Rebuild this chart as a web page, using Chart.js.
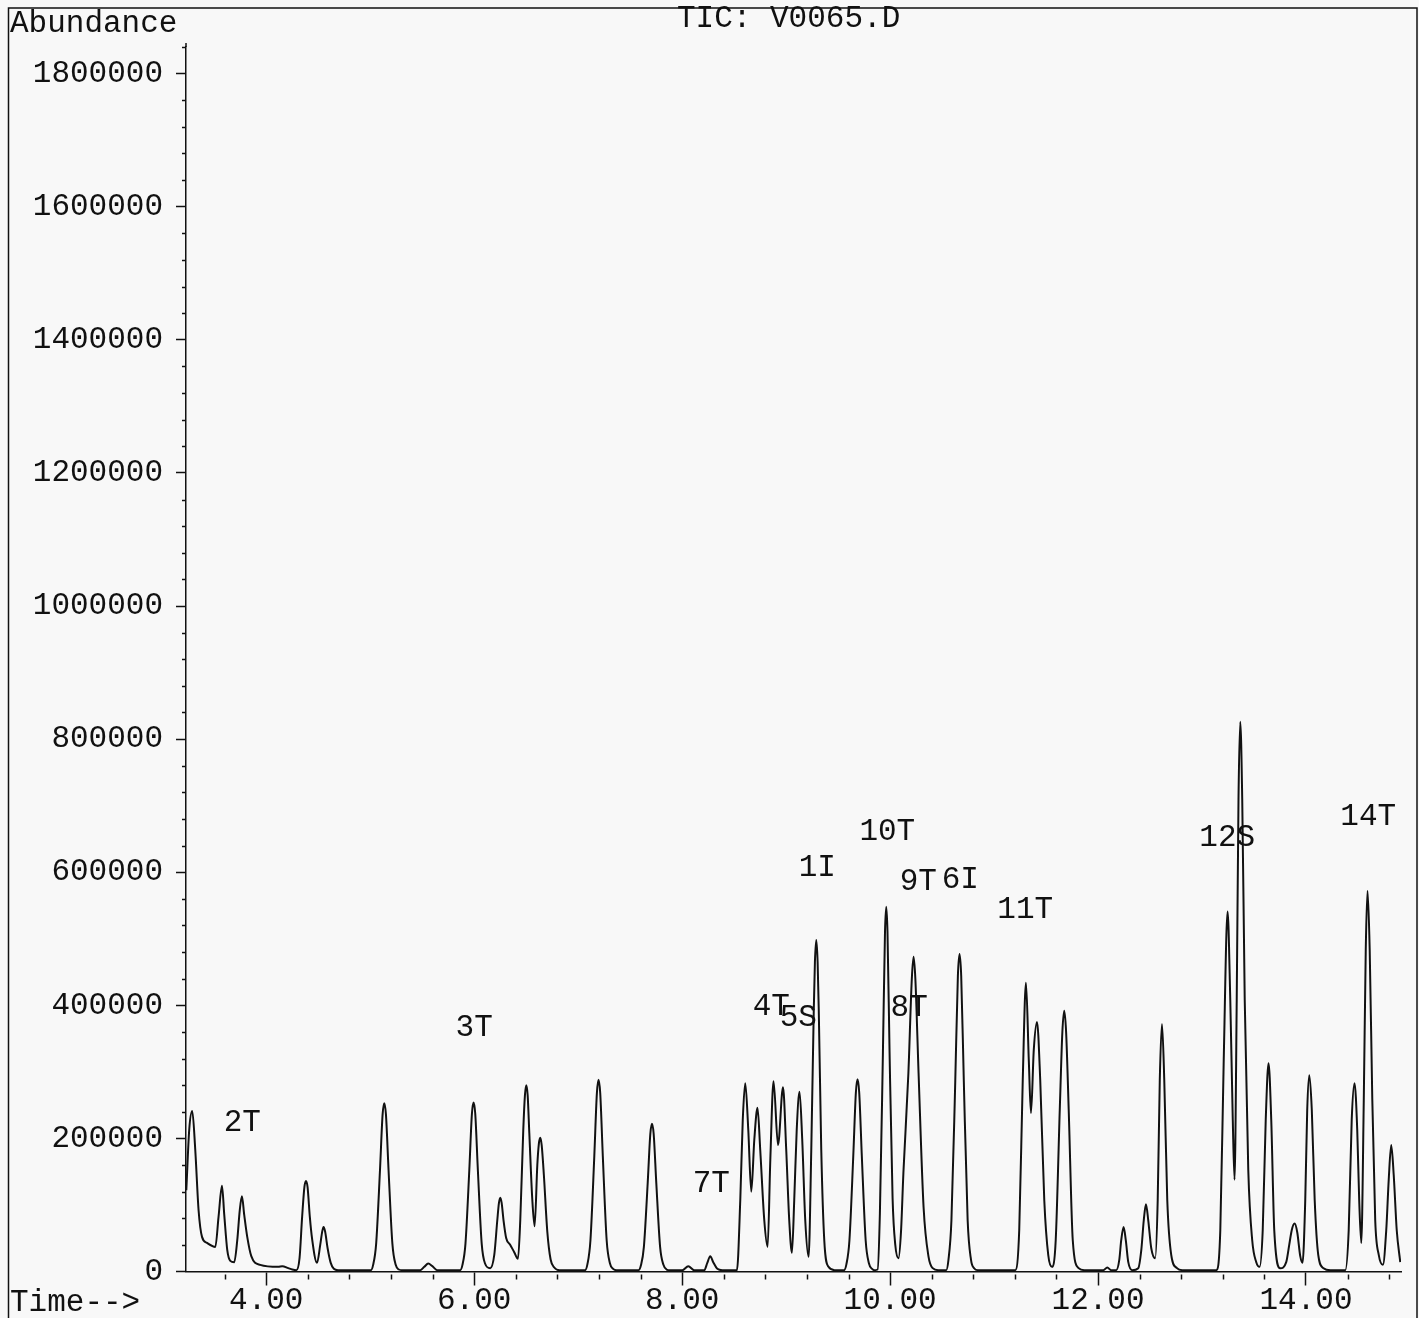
<!DOCTYPE html>
<html>
<head>
<meta charset="utf-8">
<title>TIC: V0065.D</title>
<script src="https://cdn.jsdelivr.net/npm/chart.js@4.4.1/dist/chart.umd.min.js"></script>
<style>
    html, body { margin: 0; padding: 0; background: #f8f8f8; }
    #wrap { position: relative; width: 1419px; height: 1318px; }
</style>
</head>
<body>
<div id="wrap"><canvas id="tic"></canvas></div>
<script>
// Total ion chromatogram, retention time (min) vs abundance
const retentionTimes = [
    3.231, 3.259, 3.288, 3.317, 3.349, 3.382, 3.430, 3.510, 3.541, 3.574, 3.596, 3.625, 3.654, 3.692,
    3.721, 3.745, 3.766, 3.788, 3.817, 3.856, 3.942, 4.115, 4.154, 4.212, 4.250,
    4.290, 4.320, 4.345, 4.367, 4.382, 4.397, 4.419, 4.440, 4.488, 4.519, 4.538, 4.551, 4.566, 4.590,
    4.620, 4.650, 4.690,
    5.005, 5.028, 5.057, 5.094, 5.119, 5.135, 5.151, 5.176, 5.213, 5.245, 5.275, 5.308,
    5.481, 5.520, 5.558, 5.597, 5.645,
    5.864, 5.887, 5.916, 5.953, 5.978, 5.994, 6.010, 6.035, 6.072, 6.104, 6.154,
    6.193, 6.222, 6.238, 6.251, 6.264, 6.282, 6.308, 6.347, 6.385, 6.421,
    6.443, 6.472, 6.488, 6.501, 6.514, 6.530, 6.558, 6.581, 6.607, 6.622, 6.635, 6.649, 6.670, 6.703,
    6.735, 6.770, 6.820,
    7.066, 7.089, 7.118, 7.155, 7.180, 7.196, 7.212, 7.237, 7.274, 7.306, 7.336, 7.370,
    7.580, 7.603, 7.632, 7.669, 7.694, 7.710, 7.726, 7.751, 7.788, 7.820, 7.850, 7.885,
    8.001, 8.059, 8.117, 8.213, 8.242, 8.270, 8.299, 8.338, 8.386,
    8.527, 8.559, 8.583, 8.607, 8.636, 8.665, 8.694, 8.725, 8.751, 8.790, 8.822, 8.848, 8.879, 8.922,
    8.970, 9.001, 9.030, 9.056, 9.078, 9.102, 9.129, 9.155, 9.184, 9.216, 9.242, 9.266, 9.277, 9.290,
    9.303, 9.314, 9.338, 9.367, 9.408, 9.466,
    9.557, 9.580, 9.609, 9.646, 9.671, 9.687, 9.703, 9.728, 9.765, 9.797, 9.827, 9.850,
    9.880, 9.902, 9.931, 9.951, 9.963, 9.975, 9.995, 10.024, 10.050, 10.081,
    10.105, 10.128, 10.176, 10.209, 10.226, 10.243, 10.274, 10.322, 10.370, 10.410, 10.463,
    10.540, 10.561, 10.590, 10.627, 10.652, 10.668, 10.684, 10.709, 10.746, 10.778, 10.808, 10.845,
    11.204, 11.242, 11.276, 11.307, 11.334, 11.355, 11.382, 11.413, 11.444, 11.483, 11.521, 11.557,
    11.593, 11.632, 11.657, 11.675, 11.693, 11.718, 11.757, 11.813, 11.868,
    12.050, 12.089, 12.127, 12.175, 12.204, 12.223, 12.246, 12.267, 12.291, 12.329,
    12.387, 12.416, 12.440, 12.461, 12.483, 12.512, 12.550, 12.574, 12.594, 12.615, 12.637, 12.666,
    12.704, 12.759, 12.810,
    13.137, 13.176, 13.209, 13.246, 13.272, 13.296, 13.313, 13.334, 13.351, 13.368, 13.387, 13.411,
    13.445, 13.483, 13.522, 13.554, 13.584, 13.613, 13.640, 13.666, 13.695, 13.753,
    13.810, 13.839, 13.863, 13.890, 13.916, 13.945, 13.967, 13.993, 14.012, 14.032, 14.056, 14.084,
    14.118, 14.169, 14.234,
    14.378, 14.411, 14.440, 14.467, 14.493, 14.512, 14.532, 14.556, 14.575, 14.592, 14.613, 14.638,
    14.666, 14.700, 14.740, 14.772, 14.796, 14.820, 14.844, 14.873, 14.907
];

const abundance = [
    122000, 213000, 241000, 183000, 92000, 52000, 43000, 37000, 82000, 129000, 85000, 32000, 16000, 14000,
    47000, 92000, 113000, 85000, 52000, 23000, 10000, 7000, 8000, 5000, 3000,
    2000, 20000, 82000, 127000, 136000, 127000, 82000, 50000, 13000, 40000, 60000, 67000, 60000, 35000,
    13000, 4000, 2000,
    2000, 10000, 42000, 153000, 236000, 253000, 236000, 153000, 42000, 10000, 3000, 2000,
    2000, 7000, 12000, 8000, 2000,
    2000, 10000, 42000, 153000, 237000, 254000, 237000, 153000, 42000, 12000, 5000,
    25000, 77000, 103000, 111000, 103000, 77000, 50000, 40000, 29000, 19000,
    77000, 213000, 265000, 280000, 265000, 208000, 110000, 68000, 160000, 192000, 201000, 190000, 145000, 60000,
    18000, 6000, 2000,
    2000, 11000, 47000, 173000, 268000, 288000, 268000, 173000, 47000, 12000, 4000, 2000,
    2000, 9000, 37000, 134000, 207000, 222000, 207000, 134000, 37000, 10000, 3000, 2000,
    2000, 8000, 2000, 2000, 13000, 23000, 14000, 4000, 2000,
    2000, 107000, 228000, 283000, 213000, 120000, 198000, 246000, 183000, 77000, 37000, 168000, 286000, 190000,
    277000, 183000, 77000, 28000, 107000, 213000, 270000, 198000, 77000, 22000, 183000, 393000, 465000, 498000,
    465000, 393000, 183000, 47000, 7000, 2000,
    2000, 11000, 47000, 174000, 269000, 289000, 269000, 174000, 47000, 12000, 4000, 2000,
    3000, 88000, 329000, 510000, 548000, 510000, 329000, 110000, 40000, 20000,
    60000, 148000, 298000, 440000, 473000, 440000, 298000, 97000, 22000, 5000, 2000,
    2000, 17000, 77000, 287000, 444000, 477000, 444000, 287000, 77000, 18000, 5000, 2000,
    2000, 62000, 288000, 434000, 318000, 238000, 333000, 375000, 288000, 107000, 25000, 7000,
    47000, 243000, 360000, 392000, 360000, 243000, 47000, 5000, 2000,
    2000, 6000, 2000, 2000, 17000, 47000, 67000, 47000, 14000, 2000,
    5000, 32000, 77000, 101000, 77000, 35000, 20000, 107000, 288000, 372000, 288000, 107000,
    25000, 5000, 2000,
    2000, 62000, 318000, 541000, 408000, 228000, 138000, 408000, 709000, 826000, 709000, 408000,
    153000, 47000, 14000, 7000, 62000, 228000, 313000, 228000, 62000, 5000,
    14000, 40000, 62000, 72000, 59000, 23000, 13000, 107000, 243000, 295000, 243000, 107000,
    25000, 5000, 2000,
    2000, 62000, 228000, 283000, 213000, 107000, 43000, 258000, 483000, 572000, 483000, 258000,
    77000, 25000, 10000, 62000, 138000, 190000, 145000, 62000, 14000
];

// Compound annotations: name, retention time, height of the label
const peakNames = ['2T', '3T', '7T', '4T', '5S', '1I', '10T', '9T', '6I', '8T', '11T', '12S', '14T'];
const peakLabelTimes = [3.769, 6.000, 8.280, 8.857, 9.117, 9.300, 9.973, 10.271, 10.675, 10.184, 11.300, 13.243, 14.599];
const peakLabelLevels = [223000, 366000, 132000, 398000, 381000, 606000, 661000, 585000, 588000, 396000, 543000, 652000, 683000];

// Axis settings
const timeRange = [3.228, 14.914];
const timeStep = 0.4;
const abundanceRange = [0, 1840000];
const abundanceStep = 40000;
const abundanceLabelEvery = 200000;

const monoFont = "'Courier New', 'Nimbus Mono PS', 'Liberation Mono', monospace";
const ink = '#111111';

const points = retentionTimes.map((t, i) => ({ x: t, y: abundance[i] }));

function isTimeLabel(v) {
    return Math.abs(v / 2 - Math.round(v / 2)) < 1e-6;
}
function isAbundanceLabel(v) {
    return Math.abs(v / abundanceLabelEvery - Math.round(v / abundanceLabelEvery)) < 1e-6;
}

const decorations = {
    id: 'decorations',
    beforeDraw(chart) {
        const ctx = chart.ctx;
        ctx.save();
        ctx.fillStyle = '#f8f8f8';
        ctx.fillRect(0, 0, chart.width, chart.height);
        ctx.restore();
    },
    afterDraw(chart) {
        const ctx = chart.ctx;
        const area = chart.chartArea;
        const xs = chart.scales.x;
        const ys = chart.scales.y;
        ctx.save();

        // outer frame
        ctx.strokeStyle = ink;
        ctx.lineWidth = 1.5;
        ctx.beginPath();
        ctx.moveTo(8.5, chart.height);
        ctx.lineTo(8.5, 8);
        ctx.lineTo(1417, 8);
        ctx.lineTo(1417, chart.height);
        ctx.stroke();

        // y axis runs a little above the last tick
        ctx.beginPath();
        ctx.moveTo(area.left, area.top);
        ctx.lineTo(area.left, area.top - 4);
        ctx.stroke();

        // short minor tick marks
        ctx.beginPath();
        xs.ticks.forEach(tk => {
            if (isTimeLabel(tk.value)) return;
            const px = Math.round(xs.getPixelForValue(tk.value)) + 0.5;
            ctx.moveTo(px, area.bottom + 3);
            ctx.lineTo(px, area.bottom + 8);
        });
        ys.ticks.forEach(tk => {
            if (isAbundanceLabel(tk.value)) return;
            const py = Math.round(ys.getPixelForValue(tk.value)) + 0.5;
            ctx.moveTo(area.left - 4, py);
            ctx.lineTo(area.left, py);
        });
        ctx.stroke();

        // header and axis captions
        ctx.fillStyle = ink;
        ctx.font = '31px ' + monoFont;
        ctx.textBaseline = 'alphabetic';
        ctx.textAlign = 'left';
        ctx.fillText('Abundance', 10, 32);
        ctx.fillText('TIC: V0065.D', 677, 27);
        ctx.fillText('Time-->', 10, 1311);

        // peak annotations
        ctx.textAlign = 'center';
        ctx.textBaseline = 'middle';
        peakNames.forEach((name, i) => {
            ctx.fillText(name, xs.getPixelForValue(peakLabelTimes[i]), ys.getPixelForValue(peakLabelLevels[i]));
        });
        ctx.restore();
    }
};

new Chart(document.getElementById('tic'), {
    type: 'line',
    data: {
        datasets: [{
            data: points,
            borderColor: ink,
            borderWidth: 2,
            pointRadius: 0,
            fill: false,
            cubicInterpolationMode: 'monotone'
        }]
    },
    options: {
        responsive: true,
        maintainAspectRatio: false,
        devicePixelRatio: 1,
        animation: false,
        layout: { padding: { top: 47, right: 18, left: 0, bottom: 0 } },
        plugins: {
            legend: { display: false },
            tooltip: { enabled: false }
        },
        scales: {
            x: {
                type: 'linear',
                min: timeRange[0],
                max: timeRange[1],
                afterFit: scale => { scale.height = 46.5; },
                border: { display: true, color: ink, width: 1.5 },
                grid: {
                    drawOnChartArea: false,
                    tickLength: 14,
                    tickWidth: 1.5,
                    tickColor: c => (c.tick && isTimeLabel(c.tick.value)) ? ink : 'rgba(0,0,0,0)'
                },
                ticks: {
                    stepSize: timeStep,
                    includeBounds: false,
                    autoSkip: false,
                    maxRotation: 0,
                    padding: 0,
                    color: ink,
                    font: { family: monoFont, size: 31, lineHeight: 1 },
                    callback: v => isTimeLabel(v) ? v.toFixed(2) : ''
                }
            },
            y: {
                min: abundanceRange[0],
                max: abundanceRange[1],
                afterFit: scale => { scale.width = 186; },
                border: { display: true, color: ink, width: 1.5 },
                grid: {
                    drawOnChartArea: false,
                    tickLength: 10,
                    tickWidth: 1.5,
                    tickColor: c => (c.tick && isAbundanceLabel(c.tick.value)) ? ink : 'rgba(0,0,0,0)'
                },
                ticks: {
                    stepSize: abundanceStep,
                    autoSkip: false,
                    padding: 13,
                    color: ink,
                    font: { family: monoFont, size: 31, lineHeight: 1 },
                    callback: v => isAbundanceLabel(v) ? String(v) : ''
                }
            }
        }
    },
    plugins: [decorations]
});
</script>
</body>
</html>
